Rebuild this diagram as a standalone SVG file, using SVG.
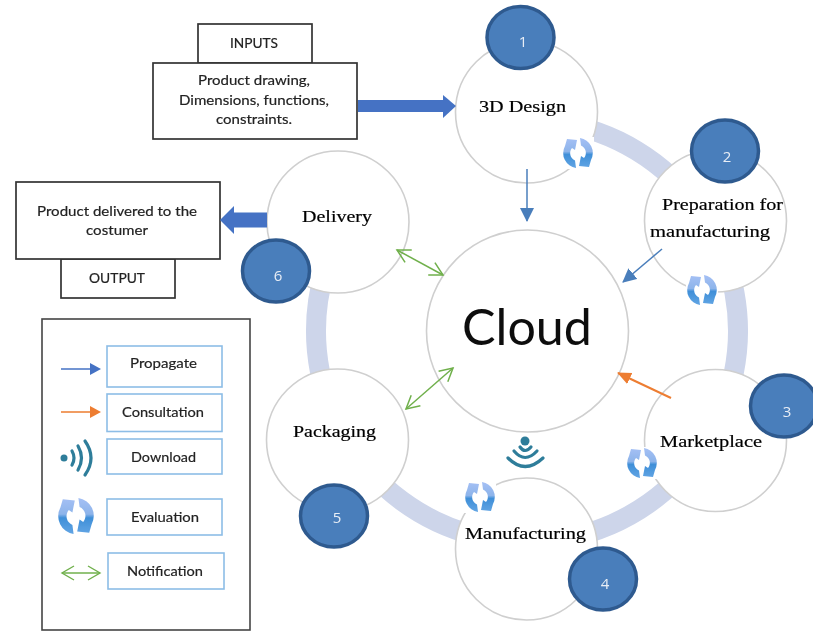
<svg xmlns="http://www.w3.org/2000/svg" xmlns:xlink="http://www.w3.org/1999/xlink" width="813" height="632" viewBox="0 0 813 632">
<style>
.c{fill:#fff;stroke:#cfcfcf;stroke-width:1.6}
.b{fill:#4a7ebb;stroke:#2f5a8f;stroke-width:3.5}
.n{font:15px "Open Sans","Liberation Sans",sans-serif;fill:#e8eef6;text-anchor:middle}
.s{font:17.5px "Liberation Serif",serif;fill:#000;stroke:#000;stroke-width:0.2}
.t{font:14px Lato,"Liberation Sans",sans-serif;fill:#222;stroke:#222;stroke-width:0.2}
.box{fill:#fff;stroke:#333;stroke-width:1.7}
.lg{fill:#fff;stroke:#8dbde6;stroke-width:1.6}
.w{fill:none;stroke:#2e7d9a;stroke-width:3.2;stroke-linecap:round}
</style>
<defs>
<filter id="soft" filterUnits="userSpaceOnUse" x="0" y="0" width="813" height="632"><feGaussianBlur stdDeviation="0.45"/></filter>
<linearGradient id="evg" gradientUnits="userSpaceOnUse" x1="0" y1="-15" x2="0" y2="15"><stop offset="0" stop-color="#a5c0f5"/><stop offset="0.45" stop-color="#8db4ea"/><stop offset="0.55" stop-color="#3f8fd8"/><stop offset="1" stop-color="#62a5e4"/></linearGradient>
<marker id="ab" markerUnits="userSpaceOnUse" markerWidth="15" markerHeight="15" refX="13" refY="7" orient="auto"><path d="M0 0L14 7L0 14Z" fill="#4a7ebb"/></marker>
<marker id="ao" markerUnits="userSpaceOnUse" markerWidth="15" markerHeight="13" refX="13" refY="6" orient="auto"><path d="M0 0L14 6L0 12Z" fill="#ed7d31"/></marker>
<marker id="ag" markerUnits="userSpaceOnUse" markerWidth="16" markerHeight="16" refX="14" refY="8" orient="auto-start-reverse"><path d="M1 1L14 8L1 15" fill="none" stroke="#70b04c" stroke-width="1.5"/></marker>
<g id="ev">
<rect x="-16" y="-16" width="32" height="32" fill="#fff"/>
<g fill="url(#evg)">
<path d="M-2 15A15 15 0 0 1 -13 -7L-11 -14L-1 -13L-3 -3L-6 -5A8 8 0 0 0 -3 7.5Z"/>
<path d="M2 -15A15 15 0 0 1 13 7L11 14L1 13L3 3L6 5A8 8 0 0 0 3 -7.5Z"/>
</g>
</g>
</defs>
<g filter="url(#soft)">
<g id="ring"><path d="M560 122.6A211 211 0 1 1 325 270" fill="none" stroke="#cdd5ea" stroke-width="20"/></g>
<g id="node-cloud"><circle class="c" cx="527.5" cy="331" r="101"/><text x="462" y="345" font-family="Lato,'Liberation Sans',sans-serif" font-size="50" fill="#111" textLength="130" lengthAdjust="spacingAndGlyphs">Cloud</text></g>
<g id="node-1"><circle class="c" cx="526.5" cy="112" r="71"/><text class="s" x="479" y="112" textLength="87" lengthAdjust="spacingAndGlyphs">3D Design</text><ellipse class="b" cx="520.5" cy="37.5" rx="33.5" ry="31"/><text class="n" x="523" y="47">1</text><use xlink:href="#ev" href="#ev" x="578" y="153"/></g>
<g id="node-2"><circle class="c" cx="715.5" cy="221" r="71"/><text class="s" x="662" y="210" textLength="121" lengthAdjust="spacingAndGlyphs">Preparation for</text><text class="s" x="650" y="237" textLength="120" lengthAdjust="spacingAndGlyphs">manufacturing</text><ellipse class="b" cx="725" cy="151" rx="33.5" ry="31"/><text class="n" x="727" y="162">2</text><use xlink:href="#ev" href="#ev" x="702" y="290"/></g>
<g id="node-3"><circle class="c" cx="715.5" cy="440.5" r="71"/><text class="s" x="660" y="447" textLength="102" lengthAdjust="spacingAndGlyphs">Marketplace</text><ellipse class="b" cx="784" cy="406" rx="33.5" ry="31"/><text class="n" x="787" y="417">3</text><use xlink:href="#ev" href="#ev" x="642" y="463"/></g>
<g id="node-4"><circle class="c" cx="526.5" cy="549" r="71"/><use xlink:href="#ev" href="#ev" x="480" y="497"/><text class="s" x="465" y="539" textLength="121" lengthAdjust="spacingAndGlyphs">Manufacturing</text><ellipse class="b" cx="603" cy="579" rx="33.5" ry="31"/><text class="n" x="605" y="589">4</text></g>
<g id="node-5"><circle class="c" cx="337.5" cy="440" r="71"/><text class="s" x="293" y="437" textLength="83" lengthAdjust="spacingAndGlyphs">Packaging</text><ellipse class="b" cx="334" cy="516" rx="33.5" ry="31"/><text class="n" x="337" y="523">5</text></g>
<g id="node-6"><circle class="c" cx="338" cy="222" r="71"/><text class="s" x="302" y="222" textLength="70" lengthAdjust="spacingAndGlyphs">Delivery</text><ellipse class="b" cx="276" cy="271" rx="33.5" ry="31"/><text class="n" x="278" y="281">6</text></g>
<g id="node-wifi">
<circle cx="525" cy="441" r="4.5" fill="#2e7d9a"/>
<path class="w" d="M520 447Q525 454 531 447"/><path class="w" d="M514 451Q525 464 537 451"/><path class="w" d="M508 458Q525 475 543 458"/>
</g>
<g id="node-inputs"><rect class="box" x="198" y="24" width="114" height="39"/><text class="t" x="230" y="48" textLength="48" lengthAdjust="spacingAndGlyphs">INPUTS</text><rect class="box" x="153" y="63" width="204" height="76"/><text class="t" x="198" y="85" textLength="112" lengthAdjust="spacingAndGlyphs">Product drawing,</text><text class="t" x="179" y="105" textLength="150" lengthAdjust="spacingAndGlyphs">Dimensions, functions,</text><text class="t" x="216" y="124" textLength="76" lengthAdjust="spacingAndGlyphs">constraints.</text></g>
<g id="node-output"><rect class="box" x="61" y="259" width="114" height="39"/><text class="t" x="89" y="283" textLength="56" lengthAdjust="spacingAndGlyphs">OUTPUT</text><rect class="box" x="16" y="182" width="204" height="77"/><text class="t" x="37" y="216" textLength="160" lengthAdjust="spacingAndGlyphs">Product delivered to the</text><text class="t" x="86" y="235" textLength="62" lengthAdjust="spacingAndGlyphs">costumer</text></g>
<g id="legend">
<rect x="42" y="319" width="208" height="311" fill="#fff" stroke="#444" stroke-width="1.6"/>
<rect class="lg" x="107" y="346" width="115" height="41"/><text class="t" x="130" y="368" textLength="67" lengthAdjust="spacingAndGlyphs">Propagate</text>
<rect class="lg" x="107" y="394" width="115" height="37.5"/><text class="t" x="122" y="417" textLength="82" lengthAdjust="spacingAndGlyphs">Consultation</text>
<rect class="lg" x="107" y="439" width="115" height="35"/><text class="t" x="131" y="462" textLength="65" lengthAdjust="spacingAndGlyphs">Download</text>
<rect class="lg" x="107" y="499" width="115" height="36"/><text class="t" x="131" y="522" textLength="68" lengthAdjust="spacingAndGlyphs">Evaluation</text>
<rect class="lg" x="108" y="553" width="116" height="36"/><text class="t" x="127" y="576" textLength="76" lengthAdjust="spacingAndGlyphs">Notification</text>
<path d="M61 369H92" stroke="#4472c4" stroke-width="1.5" fill="none"/><path d="M90 363L101 369L90 375Z" fill="#4472c4"/>
<path d="M61 412H92" stroke="#ed7d31" stroke-width="1.5" fill="none"/><path d="M90 406L101 412L90 418Z" fill="#ed7d31"/>
<circle cx="64" cy="458" r="3.5" fill="#2e7d9a"/><path class="w" d="M72 451Q76 458 72 465"/><path class="w" d="M78 446Q85 458 78 470"/><path class="w" d="M85 441Q97 458 85 475"/>
<use xlink:href="#ev" href="#ev" transform="translate(76 516) scale(1.2)"/>
<path d="M62 573H100" stroke="#70b04c" stroke-width="1.4" fill="none"/><path d="M74 566L62 573L74 580M88 566L100 573L88 580" stroke="#70b04c" stroke-width="1.4" fill="none"/>
</g>
<g id="connectors" fill="none">
<path d="M358 106H444" stroke="#4472c4" stroke-width="12"/><path d="M443 95L456 106L443 118Z" fill="#4472c4"/>
<path d="M267 220H232" stroke="#4472c4" stroke-width="15"/><path d="M234 206L220 220L234 234Z" fill="#4472c4"/>
<path d="M527 169V221" stroke="#4a7ebb" stroke-width="1.5" marker-end="url(#ab)"/>
<path d="M662 249L623 282" stroke="#4a7ebb" stroke-width="1.5" marker-end="url(#ab)"/>
<path d="M671 398L618 373" stroke="#ed7d31" stroke-width="2" marker-end="url(#ao)"/>
<path d="M397 250L443 275" stroke="#70b04c" stroke-width="1.5" marker-start="url(#ag)" marker-end="url(#ag)"/>
<path d="M406 409L453 368" stroke="#70b04c" stroke-width="1.5" marker-start="url(#ag)" marker-end="url(#ag)"/>
</g>
</g>
</svg>
